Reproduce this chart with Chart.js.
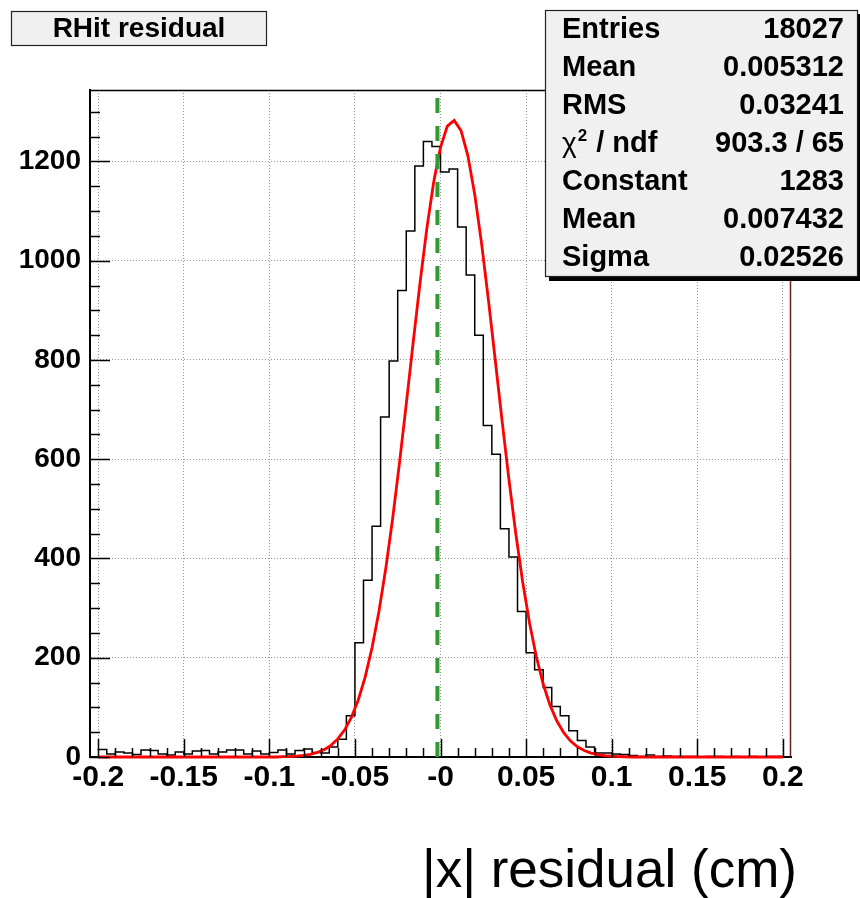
<!DOCTYPE html>
<html><head><meta charset="utf-8">
<script src="https://cdn.jsdelivr.net/npm/chart.js@4.4.1/dist/chart.umd.min.js"></script>
<style>html,body{margin:0;padding:0;background:#fff;}canvas{display:block;}</style>
</head><body>
<canvas id="c" width="860" height="898"></canvas>
<script>
const histTitle = "RHit residual";
const xAxisTitle = "|x| residual (cm)";
const binLow = -0.2;
const binWidth = 0.005;
const binCounts = [
  16,15,6,10,8,5,14,13,6,4,10,6,12,13,6,10,14,14,6,12,
  6,9,14,6,13,16,9,8,20,36,
  83,230,356,465,685,798,940,1060,1191,1240,
  1230,1179,1185,1068,971,850,668,610,460,403,
  293,210,176,140,102,83,53,33,20,8,
  8,6,5,3,1,4,1,2,1,1,
  1,0,1,1,0,1,0,1,0,1
];
const fitStart = -0.2;
const fitStep = 0.004;
const fitValues = [
  0,0,0,0,0,0,0,0,0,0,0,0,0,0,0,0,0,0,0,0,0,0,0,0,0,0,0,
  0.6,1.0,1.8,3.2,5.5,9.1,14.8,23.5,36.4,54.8,80.5,115.5,161.4,220.1,292.6,379.4,479.7,591.5,711.4,834.4,954.4,1064.6,1158.1,1228.6,
  1271.2,1282.7,1262.2,1211.3,1133.6,1034.7,921.0,799.5,676.9,558.8,449.9,353.3,270.5,202.0,147.1,104.5,72.4,48.9,32.2,20.7,13.0,7.9,4.7,2.7,1.6,0.9,0.5,
  0,0,0,0,0,0,0,0,0,0,0,0,0,0,0,0,0,0,0,0,0,0,0
];
const markerX = -0.0018;
const xTickValues = [-0.2,-0.15,-0.1,-0.05,0,0.05,0.1,0.15,0.2];
const xTickLabels = ["-0.2","-0.15","-0.1","-0.05","-0","0.05","0.1","0.15","0.2"];
const yTickValues = [0,200,400,600,800,1000,1200];
const yTickLabels = ["0","200","400","600","800","1000","1200"];
const statsLabels = ["Entries","Mean","RMS","χ2 / ndf","Constant","Mean","Sigma"];
const statsValues = ["18027","0.005312","0.03241","903.3 / 65","1283","0.007432","0.02526"];
const xMin = -0.2048, xMax = 0.2048, yMin = 0, yMax = 1344;

const FONT = '"Liberation Sans", Arial, Helvetica, sans-serif';

const histPoints = binCounts.map((c, i) => ({x: binLow + i * binWidth, y: c}));
histPoints.push({x: binLow + binCounts.length * binWidth, y: binCounts[binCounts.length - 1]});
const fitPoints = fitValues.map((v, i) => ({x: fitStart + i * fitStep, y: v}));
const markerPoints = [{x: markerX, y: yMin}, {x: markerX, y: yMax}];

const innerTicks = {
  id: 'innerTicks',
  afterDatasetsDraw(chart) {
    const {ctx, chartArea: a, scales: {x, y}} = chart;
    ctx.save();
    ctx.strokeStyle = '#000';
    ctx.lineWidth = 1.5;
    ctx.beginPath();
    for (let k = 0; k * 50 <= yMax; k++) {
      const v = k * 50;
      const py = Math.round(y.getPixelForValue(v)) + 0.5;
      const len = (v % 200 === 0) ? 20 : 10;
      ctx.moveTo(a.left, py); ctx.lineTo(a.left + len, py);
    }
    for (let k = -20; k <= 20; k++) {
      const v = k * 0.01;
      const px = Math.round(x.getPixelForValue(v)) + 0.5;
      const len = (k % 5 === 0) ? 18 : 9;
      ctx.moveTo(px, a.bottom); ctx.lineTo(px, a.bottom - len);
    }
    ctx.stroke();
    ctx.lineWidth = 1.5;
    ctx.strokeStyle = '#000';
    ctx.beginPath(); ctx.moveTo(a.left, a.top + 0.5); ctx.lineTo(a.right, a.top + 0.5); ctx.stroke();
    ctx.strokeStyle = '#6e1c1c';
    ctx.beginPath(); ctx.moveTo(a.right - 0.5, a.top); ctx.lineTo(a.right - 0.5, a.bottom); ctx.stroke();
    ctx.restore();
  }
};

const annotations = {
  id: 'annotations',
  afterDraw(chart) {
    const ctx = chart.ctx;
    ctx.save();
    ctx.fillStyle = '#f0f0f0';
    ctx.fillRect(11, 11, 256, 35);
    ctx.strokeStyle = '#222'; ctx.lineWidth = 1.2;
    ctx.strokeRect(11.5, 11.5, 255, 34);
    ctx.fillStyle = '#000';
    ctx.font = 'bold 28px ' + FONT;
    ctx.textAlign = 'center'; ctx.textBaseline = 'alphabetic';
    ctx.fillText(histTitle, 139, 37);
    ctx.fillStyle = '#000';
    ctx.fillRect(549, 277, 315, 4);
    ctx.fillRect(858, 14, 4, 267);
    ctx.fillStyle = '#f0f0f0';
    ctx.fillRect(545, 10, 313, 267);
    ctx.strokeStyle = '#222'; ctx.lineWidth = 1.2;
    ctx.strokeRect(545.5, 10.5, 312, 266);
    ctx.fillStyle = '#000';
    for (let i = 0; i < statsLabels.length; i++) {
      const base = 38 + 38 * i;
      const lab = statsLabels[i];
      ctx.textAlign = 'left';
      if (lab.startsWith('χ')) {
        ctx.font = '28px ' + FONT;
        ctx.fillText('χ', 562, base);
        let w = ctx.measureText('χ').width;
        ctx.font = 'bold 17px ' + FONT;
        ctx.fillText('2', 562 + w + 1, base - 11);
        const w2 = ctx.measureText('2').width;
        ctx.font = 'bold 29px ' + FONT;
        ctx.fillText(lab.slice(2), 562 + w + w2 + 2, base);
      } else {
        ctx.font = 'bold 29px ' + FONT;
        ctx.fillText(lab, 562, base);
      }
      ctx.font = 'bold 29px ' + FONT;
      ctx.textAlign = 'right';
      ctx.fillText(statsValues[i], 844, base);
    }
    ctx.font = '53px ' + FONT;
    ctx.textAlign = 'right';
    ctx.fillText(xAxisTitle, 797, 887);
    ctx.restore();
  }
};

new Chart(document.getElementById('c'), {
  type: 'scatter',
  data: {
    datasets: [
      {label: 'marker', data: markerPoints, showLine: true, borderColor: '#339933', borderWidth: 4,
       borderDash: [15, 13], pointRadius: 0, order: 0, clip: false},
      {label: 'fit', data: fitPoints, showLine: true, borderColor: '#ff0000', borderWidth: 2.8,
       pointRadius: 0, tension: 0, order: 1, clip: false},
      {label: 'hist', data: histPoints, showLine: true, stepped: 'after', borderColor: '#000',
       borderWidth: 1.5, pointRadius: 0, order: 2, clip: false}
    ]
  },
  options: {
    responsive: false,
    animation: false,
    devicePixelRatio: 1,
    layout: {padding: {left: 0, right: 69, top: 90, bottom: 0}},
    plugins: {legend: {display: false}, tooltip: {enabled: false}},
    scales: {
      x: {
        type: 'linear', min: xMin, max: xMax,
        afterBuildTicks: s => { s.ticks = xTickValues.map(v => ({value: v})); },
        afterFit: s => { s.height = 141; },
        ticks: {autoSkip: false, maxRotation: 0, padding: 3, color: '#000',
                font: {family: FONT, size: 30, weight: 'bold'},
                callback: (v, i) => xTickLabels[i]},
        grid: {color: '#999', lineWidth: 1, drawTicks: false},
        border: {display: true, color: '#000', width: 2, dash: [1, 2]}
      },
      y: {
        type: 'linear', min: yMin, max: yMax,
        afterBuildTicks: s => { s.ticks = yTickValues.map(v => ({value: v})); },
        afterFit: s => { s.width = 90; },
        ticks: {autoSkip: false, padding: 9, color: '#000',
                font: {family: FONT, size: 28, weight: 'bold'},
                callback: (v, i) => yTickLabels[i]},
        grid: {color: '#999', lineWidth: 1, drawTicks: false},
        border: {display: true, color: '#000', width: 2, dash: [1, 2]}
      }
    }
  },
  plugins: [innerTicks, annotations]
});
</script>
</body></html>
